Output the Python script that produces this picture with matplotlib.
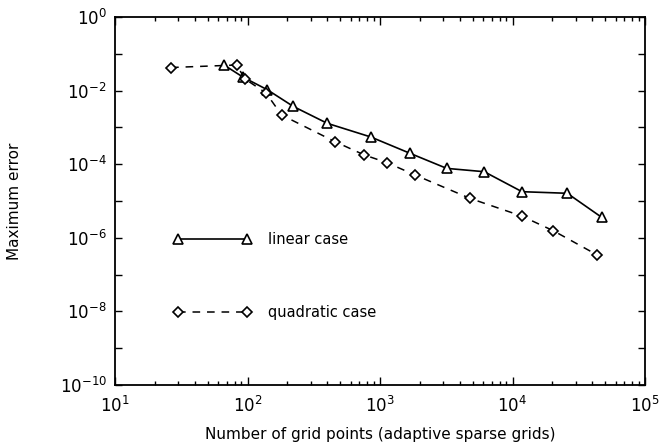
import matplotlib
matplotlib.use("Agg")
import matplotlib.pyplot as plt
from matplotlib.ticker import LogLocator, NullFormatter, LogFormatterSciNotation
from matplotlib.legend_handler import HandlerLine2D

# data
lin_x = [66.5, 92.9, 141, 222, 400, 851, 1671, 3186, 6120, 11800, 25900, 47100]
lin_y = [0.0496, 0.0230, 0.01057, 3.7e-3, 1.29e-3, 5.5e-4, 2.0e-4, 7.7e-5, 6.25e-5, 1.79e-5, 1.62e-5, 3.6e-6]
quad_x = [26.5, 82.8, 95.7, 138, 181, 457, 762, 1130, 1837, 4775, 11730, 20300, 43700]
quad_y = [0.0424, 0.0496, 0.0207, 8.6e-3, 2.17e-3, 4.1e-4, 1.78e-4, 1.1e-4, 5.1e-5, 1.18e-5, 3.9e-6, 1.56e-6, 3.4e-7]
labels = ["linear case", "quadratic case"]

plt.rcParams['font.family'] = ['DejaVu Sans']
plt.rcParams['mathtext.default'] = 'regular'

fig = plt.figure(figsize=(6.61, 4.47), dpi=100)
ax = fig.add_axes([115/661, 1-385/447, (645-115)/661, (385-17)/447])

l1, = ax.plot(lin_x, lin_y, '-', color='black', lw=1.2, marker='^', ms=7,
              mfc='white', mec='black', mew=1.2, label=labels[0])
l2, = ax.plot(quad_x, quad_y, color='black', lw=1.1, ls=(0, (5, 4.5)), marker='D', ms=5,
              mfc='white', mec='black', mew=1.2, label=labels[1])

ax.set_xscale('log')
ax.set_yscale('log')
ax.set_xlim(10, 1e5)
ax.set_ylim(1e-10, 1)

ax.xaxis.set_major_locator(LogLocator(base=10, numticks=10))
ax.xaxis.set_minor_locator(LogLocator(base=10, subs=range(2, 10), numticks=20))
ax.xaxis.set_minor_formatter(NullFormatter())
ax.yaxis.set_major_locator(LogLocator(base=100, numticks=10))
ax.yaxis.set_minor_locator(LogLocator(base=10, subs=(1.0,), numticks=20))
ax.yaxis.set_minor_formatter(NullFormatter())
ax.yaxis.set_major_formatter(LogFormatterSciNotation(base=10))

ax.tick_params(which='both', direction='in', top=True, right=True, labelsize=12, width=1)
ax.tick_params(axis='x', which='major', length=6, pad=8)
ax.tick_params(axis='x', which='minor', length=3)
ax.tick_params(axis='y', which='both', length=5, pad=6)
for s in ax.spines.values():
    s.set_linewidth(1.3)

ax.set_xlabel("Number of grid points (adaptive sparse grids)", fontsize=11, labelpad=8)
ax.set_ylabel("Maximum error", fontsize=11, labelpad=27)

leg = ax.legend(handles=[l1, l2], loc='upper left', frameon=False, numpoints=2,
                handlelength=4.75, handletextpad=1.45, labelspacing=4.0, borderpad=0,
                borderaxespad=0, fontsize=10.5,
                bbox_to_anchor=(178/661, 1-232/447), bbox_transform=fig.transFigure,
                handler_map={l1: HandlerLine2D(marker_pad=0), l2: HandlerLine2D(marker_pad=0)})

fig.savefig("out.png", dpi=100)
